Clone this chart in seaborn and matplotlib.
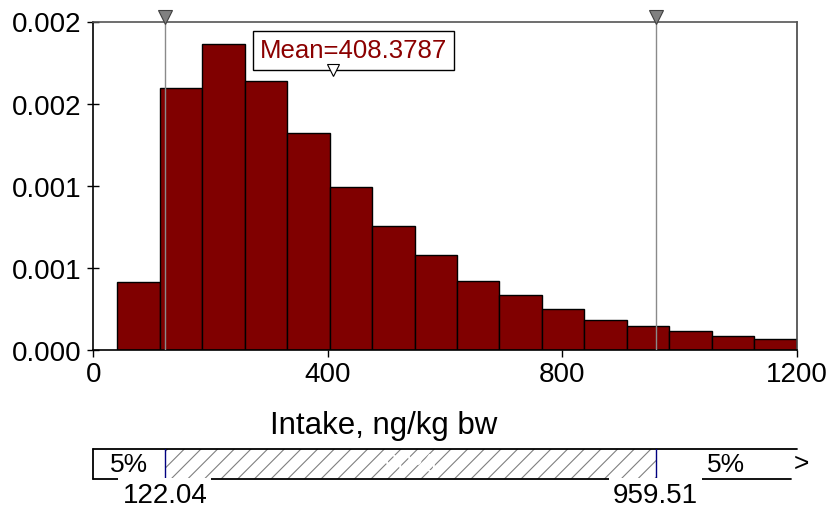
import numpy as np
import matplotlib
matplotlib.use("Agg")
import matplotlib.pyplot as plt
import matplotlib.transforms as mtransforms
import seaborn as sns

# ---- data ----
bin_edges = [40.9, 113.3, 185.8, 258.2, 330.7, 403.1, 475.5, 548.0, 620.4,
             692.9, 765.3, 837.7, 910.2, 982.6, 1055.1, 1127.5, 1200.0]
density = [0.000416, 0.001597, 0.001865, 0.001640, 0.001321, 0.000991,
           0.000755, 0.000580, 0.000420, 0.000337, 0.000248, 0.000181,
           0.000146, 0.000116, 0.000083, 0.000067]
mean_value = 408.3787
pct_low, pct_high = 122.04, 959.51
tail_labels = ["5%", "90%", "5%"]
x_ticks = [0, 400, 800, 1200]
y_ticks = [0.0, 0.0005, 0.001, 0.0015, 0.002]
y_tick_labels = ["0.000", "0.001", "0.001", "0.002", "0.002"]
x_label = "Intake, ng/kg bw"

sns.set_style("white")
plt.rcParams["font.family"] = ["Liberation Sans", "DejaVu Sans"]
plt.rcParams["text.color"] = "black"
plt.rcParams["axes.labelcolor"] = "black"
plt.rcParams["xtick.color"] = "black"
plt.rcParams["ytick.color"] = "black"
plt.rcParams["hatch.linewidth"] = 0.8

W, H = 833, 510
fig = plt.figure(figsize=(W / 100, H / 100), dpi=100)
L, R, T, B = 93.3, 796.7, 22.5, 351.0
ax = fig.add_axes([L / W, 1 - B / H, (R - L) / W, (B - T) / H])

mids = [(a + b) / 2 for a, b in zip(bin_edges[:-1], bin_edges[1:])]
sns.histplot(x=mids, weights=density, bins=bin_edges, stat="count",
             color="#800000", edgecolor="black", linewidth=1.0, alpha=1.0,
             ax=ax, zorder=2)

ax.set_xlim(0, 1200)
ax.set_ylim(0, 0.002)
ax.set_xticks(x_ticks)
ax.set_xticklabels([str(t) for t in x_ticks])
ax.set_yticks(y_ticks)
ax.set_yticklabels(y_tick_labels)
ax.set_ylabel("")
ax.set_xlabel(x_label, fontsize=22.5)
ax.xaxis.set_label_coords((384 - L) / (R - L), (B - 426) / (B - T))
ax.xaxis.label.set_va("center")

ax.tick_params(axis="y", direction="inout", length=9, width=1, labelsize=20,
               pad=4, color="black", left=True)
ax.tick_params(axis="x", direction="out", length=5, width=1, labelsize=20,
               pad=3, color="black", bottom=True)
for s in ["left", "bottom"]:
    ax.spines[s].set_color("black")
    ax.spines[s].set_linewidth(1.2)
ax.spines["top"].set_color("#555555")
ax.spines["right"].set_color("#444444")
ax.spines["top"].set_linewidth(1.2)
ax.spines["right"].set_linewidth(1.2)
ax.grid(False)

# percentile lines and markers
trans = mtransforms.blended_transform_factory(ax.transData, ax.transAxes)
for p in (pct_low, pct_high):
    ax.axvline(p, color="#8a8a8a", lw=1.0, zorder=3)
    ax.plot([p], [1.013], marker="v", markersize=10, color="#808080",
            markeredgecolor="#404040", markeredgewidth=0.8,
            transform=trans, clip_on=False, zorder=5)

# mean annotation
ax.text(mean_value - 124, 1 - (51.5 - T) / (B - T), f"Mean={mean_value}",
        transform=trans, fontsize=18.5, color="#8B0000", ha="left", va="center",
        bbox=dict(boxstyle="square,pad=0.28", fc="white", ec="black", lw=1.0),
        zorder=6)
ax.plot([mean_value], [1 - (70.5 - T) / (B - T)], marker="v", markersize=8,
        color="white", markeredgecolor="black", markeredgewidth=0.8,
        transform=trans, clip_on=False, zorder=7)

# ---- bottom percentile bar ----
bt, bb = 450.0, 480.0
bx = fig.add_axes([L / W, 1 - bb / H, (R - L) / W, (bb - bt) / H])
bx.set_xlim(0, 1200)
bx.set_ylim(0, 1)
bx.axis("off")
bx.axvspan(pct_low, pct_high, facecolor="white", edgecolor="#808080",
           lw=0, hatch="//", zorder=1)
bx.plot([0, 1200], [1, 1], color="black", lw=1.3, clip_on=False, zorder=3)
bx.plot([0, 1190], [0, 0], color="black", lw=1.3, clip_on=False, zorder=3)
bx.plot([0, 0], [0, 1], color="black", lw=1.3, clip_on=False, zorder=3)
for p in (pct_low, pct_high):
    bx.plot([p, p], [0, 1], color="#000080", lw=1.0, zorder=3)
bx.text(pct_low / 2, 0.5, tail_labels[0], ha="center", va="center", fontsize=19)
bx.text((pct_low + pct_high) / 2, 0.5, tail_labels[1], ha="center",
        va="center", fontsize=19, color="white")
bx.text((pct_high + 1200) / 2, 0.5, tail_labels[2], ha="center", va="center",
        fontsize=19)
bx.text(1208, 0.55, ">", ha="center", va="center", fontsize=19, clip_on=False)
for p in (pct_low, pct_high):
    bx.text(p, -0.55, f"{p:.2f}", ha="center", va="center", fontsize=20,
            bbox=dict(boxstyle="square,pad=0.15", fc="white", ec="none"),
            clip_on=False, zorder=4)

fig.savefig("out.png", dpi=100, facecolor="white")
